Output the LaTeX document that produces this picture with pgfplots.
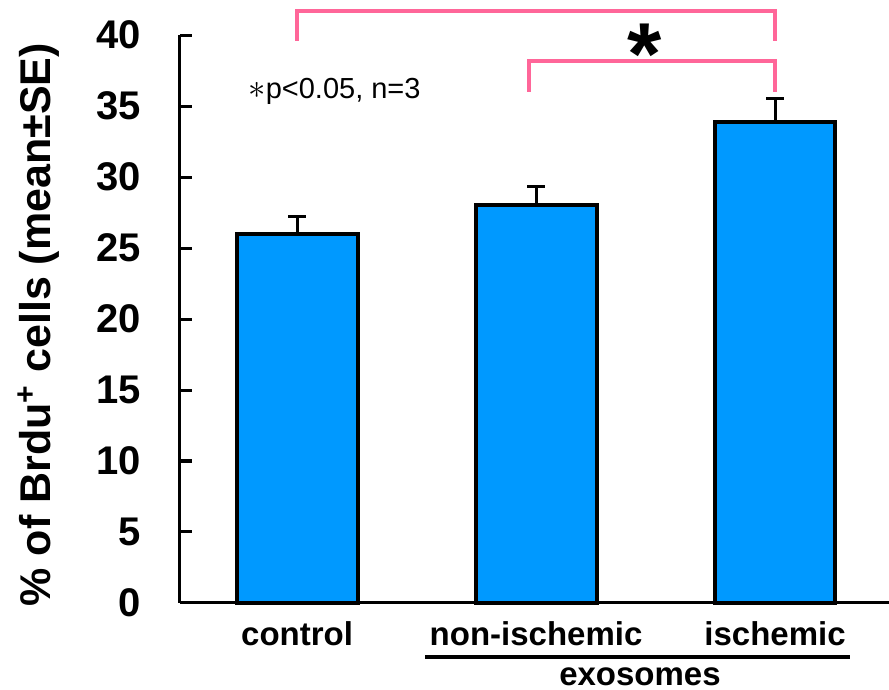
\documentclass[border=0pt]{standalone}
\usepackage{pgfplots}
\pgfplotsset{compat=1.18}
\usepackage{fontspec}
\setmainfont{Liberation Sans}
\definecolor{barblue}{RGB}{0,153,255}
\definecolor{brpink}{RGB}{255,102,153}
\begin{document}
\begin{tikzpicture}
\begin{axis}[
 scale only axis, width=354.5pt, height=284pt,
 xmin=-0.49, xmax=2.477, ymin=0, ymax=40,
 axis lines*=left,
 axis line style={line width=1.5pt},
 ytick={0,5,...,40},
 xtick={0,1,2}, xticklabels={control,non-ischemic,ischemic},
 x tick style={draw=none},
 y tick style={line width=1.5pt, black},
 tick align=inside,
 major tick length=6pt,
 /pgf/number format/assume math mode=true,
 yticklabel style={font=\bfseries\fontsize{20}{20}\selectfont, xshift=-16pt},
 xticklabel style={font=\bfseries\fontsize{16.5}{16.5}\selectfont, yshift=-6pt},
 every axis y label/.style={at={(axis description cs:-0.2,0.49)}, rotate=90, anchor=center, font=\bfseries\fontsize{21.5}{21.5}\selectfont},
 ylabel={\% of Brdu\textsuperscript{+} cells (mean±SE)},
 clip=false,
]
\addplot[ybar, bar width=0.506, fill=barblue, draw=black, line width=2pt,
  error bars/.cd, y dir=plus, y explicit,
  error bar style={line width=1.5pt, black},
  error mark options={line width=1.5pt, mark size=4.5pt, black, rotate=90}]
 coordinates {(0,26) +- (0,1.2) (1,28) +- (0,1.3) (2,33.9) +- (0,1.6)};
\draw[brpink, line width=2pt] (axis cs:0,39.6) -- (axis cs:0,41.7) -- (axis cs:2,41.7) -- (axis cs:2,39.6);
\draw[brpink, line width=2pt] (axis cs:0.97,36.0) -- (axis cs:0.97,38.2) -- (axis cs:2,38.2) -- (axis cs:2,36.0);
\node[anchor=base, font=\bfseries\fontsize{44}{44}\selectfont] at (axis cs:1.456,36.5) {*};
\node[anchor=west, inner sep=0pt, font=\fontsize{14.5}{14.5}\selectfont] at (axis cs:-0.205,36.0) {{\fontsize{19}{19}\selectfont$\ast$}p<0.05, n=3};
\draw[line width=2pt] (axis cs:0.536,-3.82) -- (axis cs:2.314,-3.82);
\node[font=\bfseries\fontsize{16.5}{16.5}\selectfont] at (axis cs:1.435,-5.2) {exosomes};
\end{axis}
\pgfresetboundingbox
\path[use as bounding box] ([shift={(-90pt,-43.5pt)}]current axis.south west) rectangle ([shift={(354.5pt,301.5pt)}]current axis.south west);
\end{tikzpicture}
\end{document}
